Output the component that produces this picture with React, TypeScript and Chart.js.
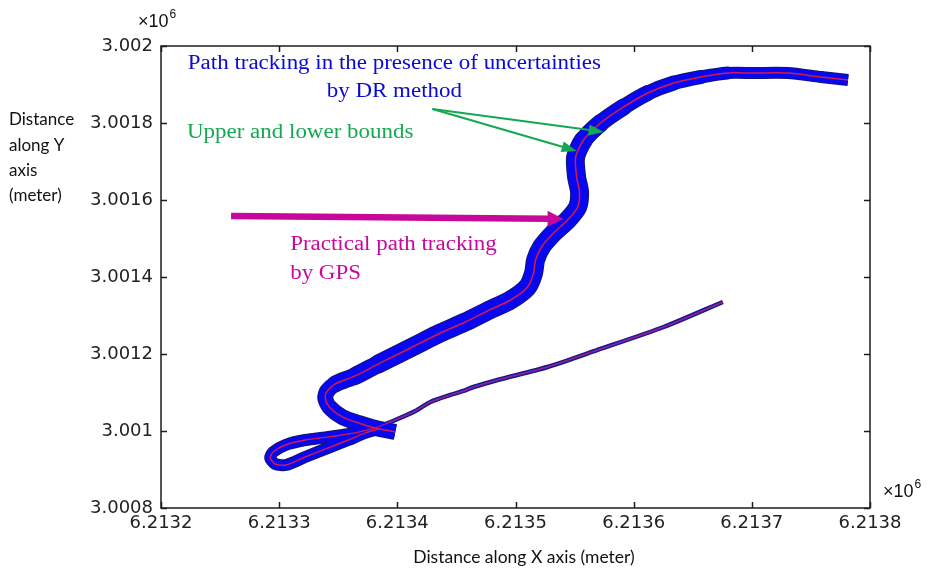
import React, { useEffect, useRef } from "react";
import { Chart, registerables } from "chart.js";

Chart.register(...registerables);

// ---------- axis ticks ----------
const xTicks = [6.2132, 6.2133, 6.2134, 6.2135, 6.2136, 6.2137, 6.2138];
const xTickLabels = ["6.2132", "6.2133", "6.2134", "6.2135", "6.2136", "6.2137", "6.2138"];
const yTicks = [3.0008, 3.001, 3.0012, 3.0014, 3.0016, 3.0018, 3.002];
const yTickLabels = ["3.0008", "3.001", "3.0012", "3.0014", "3.0016", "3.0018", "3.002"];

// ---------- path data (units of 10^6 m) ----------
// main DR band: from top-right end, down the S-curve, round the bulge to the blunt end
const mainX = [
  6.2137814, 6.2137585, 6.2137305, 6.2137017, 6.2136797, 6.2136568, 6.2136339, 6.2136119,
  6.2135915, 6.213572, 6.2135576, 6.2135509, 6.2135517, 6.2135542, 6.2135526, 6.2135441,
  6.2135322, 6.213522, 6.213517, 6.2135153, 6.2135102, 6.2134958, 6.2134763, 6.2134576,
  6.2134365, 6.2134178, 6.2134009, 6.2133839, 6.2133644, 6.2133475, 6.2133407, 6.213339,
  6.2133424, 6.2133534, 6.213367, 6.2133814, 6.2133983,
];
const mainY = [
  3.0019117, 3.0019195, 3.0019299, 3.0019299, 3.0019299, 3.0019195, 3.0019039, 3.0018779,
  3.0018416, 3.0018, 3.0017559, 3.0017117, 3.0016598, 3.0016208, 3.0015819, 3.0015481,
  3.0015143, 3.001478, 3.0014442, 3.0014105, 3.0013741, 3.0013403, 3.0013118, 3.0012832,
  3.0012546, 3.0012261, 3.0012001, 3.0011742, 3.001143, 3.0011222, 3.001104, 3.0010859,
  3.0010625, 3.0010365, 3.001021, 3.001008, 3.0009976,
];
// thin tail: from upper-right end down to the crossing
const tailX = [
  6.2136754, 6.2136254, 6.2135695, 6.2135271, 6.2134848, 6.2134644, 6.2134559, 6.2134449,
  6.213428, 6.2134153, 6.2133983, 6.2133814,
];
const tailY = [
  3.0013351, 3.0012701, 3.0012105, 3.0011663, 3.0011325, 3.0011143, 3.001104, 3.0010936,
  3.0010754, 3.0010521, 3.0010287, 3.001008,
];
// lower-left loop
const loopX = [
  6.2133814, 6.2133644, 6.2133415, 6.213322, 6.2133051, 6.2132949, 6.2132924, 6.2132966,
  6.2133059, 6.213322, 6.2133415, 6.2133585, 6.2133729, 6.2133839,
];
const loopY = [
  3.001008, 3.000995, 3.0009846, 3.0009766, 3.0009636, 3.0009455, 3.00093, 3.0009143,
  3.0009117, 3.0009325, 3.000956, 3.0009766, 3.000995, 3.0010053,
];

// ---------- annotations (anchored in data units) ----------
const blueLines = ["Path tracking in the presence of uncertainties", "by DR method"];
const blueX = 6.2133975;
const blueY = [3.0019403, 3.0018676];
const greenText = "Upper and lower bounds";
const greenX = 6.213222;
const greenY = 3.0017611;
const greenArrowFrom = [6.2134297, 3.0018364];
const greenArrowTo = [
  [6.2135746, 3.0017767],
  [6.2135517, 3.0017273],
];
const magentaLines = ["Practical path tracking", "by GPS"];
const magentaX = 6.2133093;
const magentaY = [3.0014689, 3.0013949];
const magentaArrowFrom = [6.2132593, 3.0015585];
const magentaArrowTo = [6.2135407, 3.0015507];

const BLUE = "#0808f0";
const NAVY = "#14147a";
const RED = "rgba(225,25,70,0.95)";
const TEXT_BLUE = "#0a0ad2";
const TEXT_GREEN = "#14a850";
const TEXT_MAGENTA = "#c8089b";
const SERIF = "20.5px 'Liberation Serif', 'Times New Roman', serif";
const STRETCH = 1.12;

const zip = (xs: number[], ys: number[]) => xs.map((x, i) => ({ x, y: ys[i] }));

// band width tapers from the thin top-right end, is widest along the S, narrows toward the bulge
const mainWidth = (i: number) => {
  const rise = 10 + Math.max(0, i - 3);
  const fall = 17 - Math.max(0, i - 26);
  return Math.max(10, Math.min(17, rise, Math.max(14, fall)));
};

function drawArrow(ctx: CanvasRenderingContext2D, x0: number, y0: number, x1: number, y1: number, w: number, hl: number, hw: number, color: string) {
  const ang = Math.atan2(y1 - y0, x1 - x0);
  const bx = x1 - Math.cos(ang) * hl;
  const by = y1 - Math.sin(ang) * hl;
  ctx.strokeStyle = color;
  ctx.fillStyle = color;
  ctx.lineWidth = w;
  ctx.lineCap = "butt";
  ctx.beginPath();
  ctx.moveTo(x0, y0);
  ctx.lineTo(bx + Math.cos(ang) * 1, by + Math.sin(ang) * 1);
  ctx.stroke();
  ctx.beginPath();
  ctx.moveTo(x1, y1);
  ctx.lineTo(bx - Math.sin(ang) * hw, by + Math.cos(ang) * hw);
  ctx.lineTo(bx + Math.sin(ang) * hw, by - Math.cos(ang) * hw);
  ctx.closePath();
  ctx.fill();
}

function stretchedText(ctx: CanvasRenderingContext2D, t: string, x: number, y: number, align: "left" | "center") {
  ctx.save();
  ctx.translate(x, y);
  ctx.scale(STRETCH, 1);
  ctx.textAlign = align;
  ctx.fillText(t, 0, 0);
  ctx.restore();
}

const decorPlugin = {
  id: "decor",
  afterDraw(chart: any) {
    const { ctx, chartArea: a, scales } = chart;
    const xs = scales.x;
    const ys = scales.y;
    const X = (v: number) => xs.getPixelForValue(v);
    const Y = (v: number) => ys.getPixelForValue(v);
    ctx.save();

    // box
    ctx.strokeStyle = "#1c1c1c";
    ctx.lineWidth = 1.5;
    ctx.strokeRect(a.left, a.top, a.right - a.left, a.bottom - a.top);
    // inward ticks on all sides
    const tl = 6;
    ctx.beginPath();
    xTicks.forEach((v) => {
      const px = Math.round(X(v)) + 0.5;
      ctx.moveTo(px, a.bottom);
      ctx.lineTo(px, a.bottom - tl);
      ctx.moveTo(px, a.top);
      ctx.lineTo(px, a.top + tl);
    });
    yTicks.forEach((v) => {
      const py = Math.round(Y(v)) + 0.5;
      ctx.moveTo(a.left, py);
      ctx.lineTo(a.left + tl, py);
      ctx.moveTo(a.right, py);
      ctx.lineTo(a.right - tl, py);
    });
    ctx.stroke();

    // x10^6 exponent labels
    const exp = (x: number, y: number) => {
      ctx.fillStyle = "#111";
      ctx.textAlign = "left";
      ctx.textBaseline = "alphabetic";
      ctx.font = "18px 'Liberation Sans', Arial, sans-serif";
      ctx.fillText("\u00d710", x, y);
      const w = ctx.measureText("\u00d710").width;
      ctx.font = "12px 'Liberation Sans', Arial, sans-serif";
      ctx.fillText("6", x + w + 1, y - 9);
    };
    exp(a.left - 23, a.top - 19);
    exp(a.right + 13, a.bottom - 11);

    // axis titles
    ctx.fillStyle = "#111";
    ctx.font = "17px Lato, 'Open Sans', sans-serif";
    ctx.textAlign = "left";
    ctx.textBaseline = "middle";
    ["Distance", "along Y", "axis", "(meter)"].forEach((t, i) => ctx.fillText(t, 9, 120 + i * 25.3));
    ctx.font = "17.5px Lato, 'Open Sans', sans-serif";
    ctx.textAlign = "center";
    ctx.fillText("Distance along X axis (meter)", 524, 557);

    // annotations
    ctx.textBaseline = "alphabetic";
    ctx.font = SERIF;
    ctx.fillStyle = TEXT_BLUE;
    blueLines.forEach((t, i) => stretchedText(ctx, t, X(blueX), Y(blueY[i]), "center"));
    ctx.fillStyle = TEXT_GREEN;
    stretchedText(ctx, greenText, X(greenX), Y(greenY), "left");
    ctx.fillStyle = TEXT_MAGENTA;
    magentaLines.forEach((t, i) => stretchedText(ctx, t, X(magentaX), Y(magentaY[i]), "left"));

    greenArrowTo.forEach(([tx, ty]) =>
      drawArrow(ctx, X(greenArrowFrom[0]), Y(greenArrowFrom[1]), X(tx), Y(ty), 2, 15, 5.5, TEXT_GREEN)
    );
    drawArrow(ctx, X(magentaArrowFrom[0]), Y(magentaArrowFrom[1]), X(magentaArrowTo[0]), Y(magentaArrowTo[1]), 6.5, 16, 8, TEXT_MAGENTA);

    ctx.restore();
  },
};

export default function App() {
  const ref = useRef<HTMLCanvasElement | null>(null);
  useEffect(() => {
    if (!ref.current) return;
    const mainData = zip(mainX, mainY);
    const tailData = zip(tailX, tailY);
    const loopData = zip(loopX, loopY);
    const lastMain = mainData.length - 2;
    const capFor = (i: number, last: number) => (i === 0 || i === last ? "butt" : "round");
    const common = { showLine: true, pointRadius: 0, pointHoverRadius: 0, tension: 0.25, borderJoinStyle: "round" as const, fill: false };

    const chart = new Chart(ref.current, {
      type: "scatter",
      data: {
        datasets: [
          // outlines
          {
            ...common, data: mainData, borderColor: NAVY, order: 3,
            segment: {
              borderWidth: (c: any) => mainWidth(c.p0DataIndex) + 2,
              borderCapStyle: (c: any) => capFor(c.p0DataIndex, lastMain),
            },
          } as any,
          { ...common, data: loopData, borderColor: NAVY, borderWidth: 12, borderCapStyle: "round", order: 3 } as any,
          { ...common, data: tailData, borderColor: NAVY, borderWidth: 4.5, borderCapStyle: "butt", order: 3 } as any,
          // blue bands
          {
            ...common, data: mainData, borderColor: BLUE, order: 2,
            segment: {
              borderWidth: (c: any) => mainWidth(c.p0DataIndex),
              borderCapStyle: (c: any) => capFor(c.p0DataIndex, lastMain),
            },
          } as any,
          { ...common, data: loopData, borderColor: BLUE, borderWidth: 9.5, borderCapStyle: "round", order: 2 } as any,
          { ...common, data: tailData, borderColor: "#2a22c8", borderWidth: 2.5, borderCapStyle: "butt", order: 2 } as any,
          // red centre (GPS practical path)
          { ...common, data: mainData, borderColor: RED, borderWidth: 1.5, order: 1 } as any,
          { ...common, data: loopData, borderColor: RED, borderWidth: 1.4, order: 1 } as any,
          { ...common, data: tailData, borderColor: "rgba(220,30,90,0.8)", borderWidth: 1.1, order: 1 } as any,
        ],
      },
      options: {
        responsive: false,
        animation: false,
        devicePixelRatio: 1,
        layout: { padding: { top: 46, right: 58, left: 0, bottom: 0 } },
        plugins: { legend: { display: false }, tooltip: { enabled: false } },
        scales: {
          x: {
            type: "linear",
            min: 6.2132,
            max: 6.2138,
            afterBuildTicks: (s: any) => {
              s.ticks = xTicks.map((v) => ({ value: v }));
            },
            afterFit: (s: any) => {
              s.height = 61;
            },
            ticks: {
              callback: (_v: any, i: number) => xTickLabels[i],
              font: { family: "'DejaVu Sans', sans-serif", size: 18 },
              color: "#222",
              padding: 5,
              maxRotation: 0,
              autoSkip: false,
            },
            grid: { display: false, drawTicks: false },
            border: { display: false },
          },
          y: {
            type: "linear",
            min: 3.0008,
            max: 3.002,
            afterBuildTicks: (s: any) => {
              s.ticks = yTicks.map((v) => ({ value: v }));
            },
            afterFit: (s: any) => {
              s.width = 161;
            },
            ticks: {
              callback: (_v: any, i: number) => yTickLabels[i],
              font: { family: "'DejaVu Sans', sans-serif", size: 18 },
              color: "#222",
              padding: 8,
              autoSkip: false,
            },
            grid: { display: false, drawTicks: false },
            border: { display: false },
          },
        },
      } as any,
      plugins: [decorPlugin],
    });
    return () => chart.destroy();
  }, []);

  return (
    <div style={{ position: "absolute", left: 0, top: 0, width: 928, height: 569, background: "#fff" }}>
      <canvas ref={ref} width={928} height={569} style={{ display: "block" }} />
    </div>
  );
}
